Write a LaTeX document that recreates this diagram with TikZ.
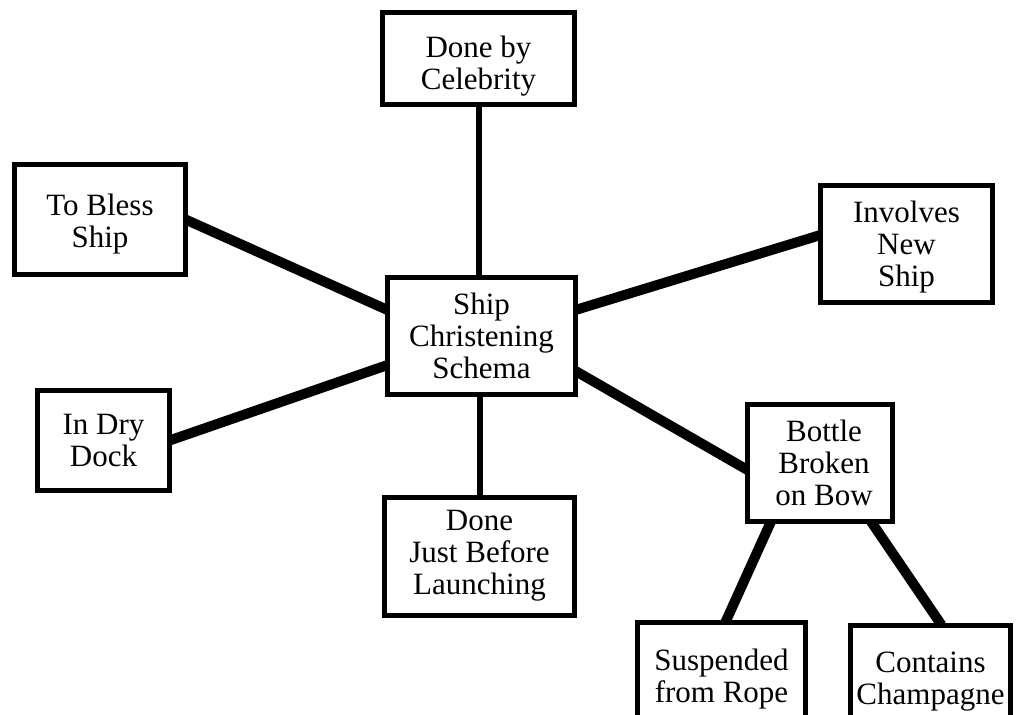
\documentclass[tikz,border=0pt]{standalone}
\usepackage{fontspec}
\setmainfont{Liberation Serif}
\pgfdeclarelayer{bg}
\pgfsetlayers{bg,main}
\begin{document}
\begin{tikzpicture}[x=1pt,y=-1pt,
  box/.style={draw,fill=white,line width=5pt,rectangle,inner sep=0pt,outer sep=0pt},
  lbl/.style={align=center,inner sep=0pt,font=\fontsize{31}{32}\selectfont},
  conn/.style={line width=10pt},
  vconn/.style={line width=6pt}]
\useasboundingbox (0,0) rectangle (1016,714);

\node[box,minimum width=192pt,minimum height=92pt,
  label={[lbl,yshift=-8pt]center:Done by\\Celebrity}] (celeb) at (478.5,58.5) {};
\node[box,minimum width=171pt,minimum height=110pt,
  label={[lbl,yshift=-5pt]center:To Bless\\Ship}] (bless) at (100,219.5) {};
\node[box,minimum width=172pt,minimum height=117pt,
  label={[lbl,yshift=-3pt]center:Involves\\New\\Ship}] (involves) at (906.5,244) {};
\node[box,minimum width=188pt,minimum height=117pt,
  label={[lbl]center:Ship\\Christening\\Schema}] (center) at (481.5,336) {};
\node[box,minimum width=132pt,minimum height=100pt,
  label={[lbl]center:In Dry\\Dock}] (drydock) at (103.5,440.5) {};
\node[box,minimum width=190pt,minimum height=118pt,
  label={[lbl,yshift=1pt]center:Done\\Just Before\\Launching}] (launch) at (479.5,556.5) {};
\node[box,minimum width=145pt,minimum height=117pt,
  label={[lbl,xshift=4pt]center:Bottle\\Broken\\on Bow}] (bottle) at (820,463) {};
\node[box,minimum width=168pt,minimum height=103pt,
  label={[lbl,yshift=-6pt]center:Suspended\\from Rope}] (rope) at (721.5,673.5) {};
\node[box,minimum width=160pt,minimum height=100pt,
  label={[lbl,yshift=-7pt]center:Contains\\Champagne}] (champ) at (930.5,675) {};

\begin{pgfonlayer}{bg}
\fill[white] (0,0) rectangle (1016,714);
\draw[vconn] (celeb.south) -- (celeb.south |- center.north);
\draw[vconn] (launch.north) -- (launch.north |- center.south);
\draw[conn] (bless.east) -- ([yshift=26pt]center.west);
\draw[conn] (drydock.east) -- ([yshift=-29pt]center.west);
\draw[conn] ([yshift=26pt]center.east) -- ([yshift=9pt]involves.west);
\draw[conn] ([yshift=-35pt]center.east) -- ([yshift=-7pt]bottle.west);
\draw[conn] ([xshift=-49pt]bottle.south) -- ([xshift=4pt]rope.north);
\draw[conn] ([xshift=51pt]bottle.south) -- ([xshift=11pt]champ.north);
\end{pgfonlayer}
\end{tikzpicture}
\end{document}
